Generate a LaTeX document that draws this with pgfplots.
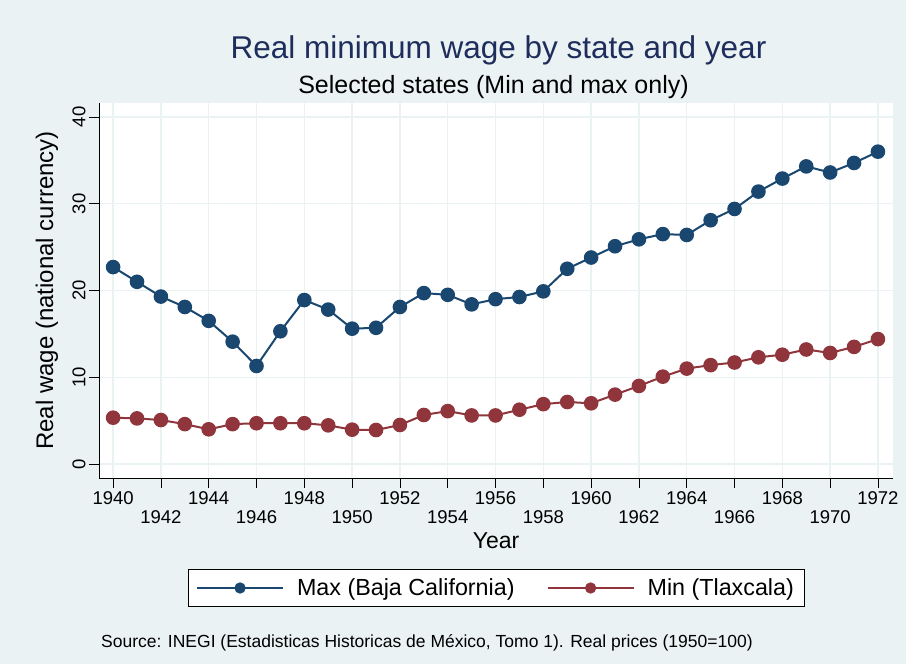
\documentclass[border=0pt]{standalone}
\usepackage{pgfplots}
\pgfplotsset{compat=1.18}
\usepackage{fontspec}
\setmainfont{Liberation Sans}
\definecolor{bgc}{RGB}{234,242,243}
\definecolor{gridc}{RGB}{234,242,243}
\definecolor{stnavy}{RGB}{26,71,111}
\definecolor{stmaroon}{RGB}{144,53,59}
\definecolor{titlec}{RGB}{30,45,92}
\pgfplotstableread{
year maxw minw
1940 22.7 5.34
1941 21.0 5.26
1942 19.3 5.07
1943 18.1 4.6
1944 16.5 4.0
1945 14.1 4.6
1946 11.3 4.7
1947 15.3 4.7
1948 18.9 4.7
1949 17.8 4.46
1950 15.6 3.96
1951 15.7 3.92
1952 18.1 4.5
1953 19.7 5.65
1954 19.5 6.1
1955 18.4 5.6
1956 19.0 5.6
1957 19.25 6.26
1958 19.9 6.9
1959 22.5 7.15
1960 23.8 7.0
1961 25.1 8.0
1962 25.9 9.0
1963 26.5 10.07
1964 26.4 11.0
1965 28.1 11.4
1966 29.4 11.7
1967 31.4 12.3
1968 32.9 12.6
1969 34.3 13.2
1970 33.6 12.8
1971 34.7 13.5
1972 36.0 14.4
}\datatable
\begin{document}
\begin{tikzpicture}[x=1pt,y=1pt]
\fill[bgc] (0,0) rectangle (906,664);
\node[anchor=base, text=titlec, font=\fontsize{31.5}{34}\selectfont] at (498.5,605) {Real minimum wage by state and year};
\node[anchor=base, text=black, font=\fontsize{25}{28}\selectfont] at (493.5,570) {Selected states (Min and max only)};
\node[anchor=base west, inner sep=0pt, font=\fontsize{17.5}{19}\selectfont] at (101,16) {Source: INEGI (Estadisticas Historicas de México, Tomo 1). Real prices (1950=100)};
\begin{axis}[
  at={(99pt,186pt)}, anchor=south west,
  width=794pt, height=375pt, scale only axis,
  xmin=1939.41, xmax=1972.63, ymin=-1.61, ymax=41.61,
  axis background/.style={fill=white},
  axis x line*=bottom, axis y line*=left,
  axis line style={-, black, line width=0.9pt},
  xtick={1940,1944,...,1972},
  extra x ticks={1942,1946,...,1970},
  extra x tick style={grid=major, tick label style={yshift=-19pt}},
  ytick={0,10,...,40},
  grid=major,
  major grid style={color=gridc, line width=1.4pt},
  tick align=outside, major tick length=10pt,
  tick style={black, line width=0.8pt},
  /pgf/number format/assume math mode=true,
  xticklabel={\pgfmathprintnumber[1000 sep={}]{\tick}},
  ticklabel style={font=\fontsize{18.5}{20}\selectfont},
  yticklabel style={rotate=90, anchor=south},
  xlabel={Year},
  ylabel={Real wage (national currency)},
  every axis x label/.style={at={(axis description cs:0.5,0)}, yshift=-63pt, anchor=center, font=\fontsize{23}{25}\selectfont},
  every axis y label/.style={at={(axis description cs:0,0.5)}, xshift=-52pt, rotate=90, anchor=center, font=\fontsize{24}{26}\selectfont},
  clip=false,
  legend columns=2,
  legend style={at={(axis description cs:0.5,0)}, yshift=-110pt, anchor=center,
    draw=black, fill=white, line width=0.8pt, font=\fontsize{23.3}{25}\selectfont,
    inner xsep=8pt, inner ysep=7pt,
    /tikz/every odd column/.append style={column sep=11pt},
    /tikz/every even column/.append style={column sep=30pt}},
  legend image code/.code={
    \draw[#1, mark=none] (0pt,0pt) -- (86pt,0pt);
    \draw[#1, only marks, mark size=4.6pt] plot coordinates {(43pt,0pt)};
  },
]
\addplot[stnavy, line width=2pt, mark=*, mark size=6.3pt, mark options={solid, fill=stnavy, draw=stnavy}] table[x=year, y=maxw] {\datatable};
\addlegendentry{Max (Baja California)}
\addplot[stmaroon, line width=2pt, mark=*, mark size=6.3pt, mark options={solid, fill=stmaroon, draw=stmaroon}] table[x=year, y=minw] {\datatable};
\addlegendentry{Min (Tlaxcala)}
\end{axis}
\end{tikzpicture}
\end{document}
